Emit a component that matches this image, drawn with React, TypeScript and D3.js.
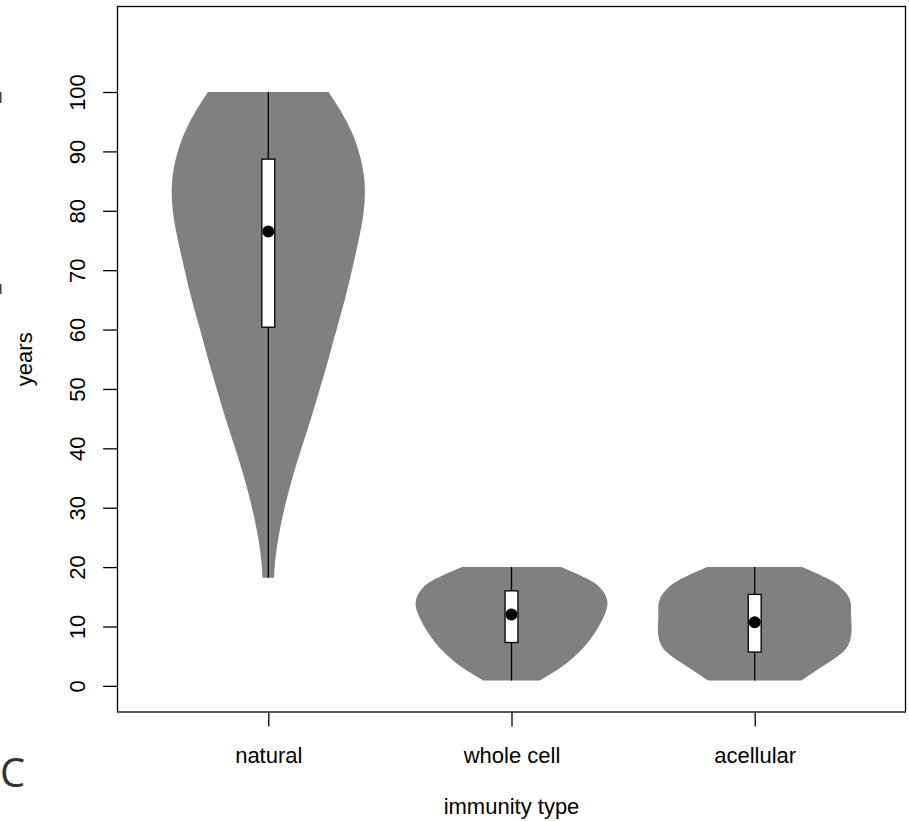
import React, { useEffect, useRef } from 'react'
import * as d3 from 'd3'

/* Categories */
const groups = ['natural', 'whole cell', 'acellular']

/* Violin outlines: years and relative density (1 = widest point) */
const naturalYears = [18.2, 20, 25, 30, 35, 40, 45, 50, 55, 60, 65, 70, 75, 80, 85, 90, 95, 100]
const naturalDensity = [0.06, 0.062, 0.1, 0.165, 0.245, 0.34, 0.44, 0.53, 0.62, 0.7, 0.79, 0.86, 0.93, 0.99, 1.0, 0.94, 0.82, 0.62]

const wholeCellYears = [0.9, 3.2, 5.5, 7.7, 10, 12.3, 14.2, 16.2, 17.8, 20]
const wholeCellDensity = [0.29, 0.53, 0.69, 0.81, 0.9, 0.97, 1.0, 0.94, 0.83, 0.51]

const acellularYears = [0.9, 2.6, 4.3, 6, 7.7, 10, 12, 14.2, 16.2, 17.8, 20]
const acellularDensity = [0.48, 0.63, 0.8, 0.94, 0.99, 1.0, 0.985, 1.0, 0.92, 0.8, 0.49]

/* Box plot stats */
const minimums = [18.2, 0.9, 0.9]
const lowerQuartiles = [60.4, 7.3, 5.7]
const medians = [76.5, 12.0, 10.7]
const upperQuartiles = [88.7, 16.0, 15.4]
const maximums = [100, 20, 20]

/* Tick labels */
const yTicks = [0, 10, 20, 30, 40, 50, 60, 70, 80, 90, 100]

const violins = [
    { years: naturalYears, density: naturalDensity },
    { years: wholeCellYears, density: wholeCellDensity },
    { years: acellularYears, density: acellularDensity },
]

const FONT = '"Liberation Sans", Arial, Helvetica, sans-serif'

export default function App() {
    const ref = useRef<SVGSVGElement>(null)

    useEffect(() => {
        const width = 909
        const height = 821
        const left = 117.5, right = 905.5, top = 6.5, bottom = 712

        const svg = d3.select(ref.current)
        svg.selectAll('*').remove()
        svg.attr('width', width).attr('height', height)

        /* Scales */
        const x = d3.scaleLinear().domain([0.38, 3.62]).range([left, right])
        const y = d3.scaleLinear().domain([-4.4, 114.4]).range([bottom, top])
        const wScale = d3.scaleLinear().domain([0, 1]).range([0, 0.4])
        const boxHalf = 0.0265

        /* Violins */
        violins.forEach((v, i) => {
            const c = i + 1
            const pts = v.years.map((yr, j) => ({ yr, d: v.density[j] }))
            const area = d3.area<{ yr: number, d: number }>()
                .y((p) => y(p.yr))
                .x0((p) => x(c - wScale(p.d)))
                .x1((p) => x(c + wScale(p.d)))
                .curve(d3.curveBasis)
            svg.append('path')
                .attr('d', area(pts))
                .attr('fill', '#808080')
        })

        /* Whiskers, boxes, medians */
        groups.forEach((g, i) => {
            const c = i + 1
            svg.append('line')
                .attr('x1', x(c)).attr('x2', x(c))
                .attr('y1', y(minimums[i])).attr('y2', y(maximums[i]))
                .attr('stroke', '#000').attr('stroke-width', 1.3)
            svg.append('rect')
                .attr('x', x(c - boxHalf))
                .attr('width', x(c + boxHalf) - x(c - boxHalf))
                .attr('y', y(upperQuartiles[i]))
                .attr('height', y(lowerQuartiles[i]) - y(upperQuartiles[i]))
                .attr('fill', '#fff').attr('stroke', '#000').attr('stroke-width', 1.3)
            svg.append('circle')
                .attr('cx', x(c)).attr('cy', y(medians[i]))
                .attr('r', 6).attr('fill', '#000')
        })

        /* Y axis */
        const yAxis = svg.append('g')
            .attr('transform', 'translate(' + left + ',0)')
            .call(d3.axisLeft(y).tickValues(yTicks).tickSize(14.4))
        yAxis.select('.domain').remove()
        yAxis.selectAll('line').attr('stroke', '#000').attr('stroke-width', 1.3)
        yAxis.selectAll('text')
            .attr('x', null).attr('y', null).attr('dy', null)
            .attr('transform', 'translate(-33,0) rotate(-90)')
            .attr('text-anchor', 'middle')
            .attr('font-family', FONT).attr('font-size', 22).attr('fill', '#000')

        /* X axis */
        const xAxis = svg.append('g')
            .attr('transform', 'translate(0,' + bottom + ')')
            .call(d3.axisBottom(x).tickValues([1, 2, 3]).tickFormat((d) => groups[+d - 1]).tickSize(14.4))
        xAxis.select('.domain').remove()
        xAxis.selectAll('line').attr('stroke', '#000').attr('stroke-width', 1.3)
        xAxis.selectAll('text')
            .attr('y', 51).attr('dy', null)
            .attr('font-family', FONT).attr('font-size', 22).attr('fill', '#000')

        /* Box */
        svg.append('rect')
            .attr('x', left).attr('y', top)
            .attr('width', right - left).attr('height', bottom - top)
            .attr('fill', 'none').attr('stroke', '#000').attr('stroke-width', 1.3)

        /* Axis titles */
        svg.append('text')
            .attr('x', (left + right) / 2).attr('y', 814)
            .attr('text-anchor', 'middle')
            .attr('font-family', FONT).attr('font-size', 22)
            .text('immunity type')
        svg.append('text')
            .attr('transform', 'translate(32,' + (top + bottom) / 2 + ') rotate(-90)')
            .attr('text-anchor', 'middle')
            .attr('font-family', FONT).attr('font-size', 22)
            .text('years')

        /* Panel letter and clipped marks from the neighbouring panel */
        svg.append('text')
            .attr('x', 0).attr('y', 787)
            .attr('font-family', '"Open Sans", "DejaVu Sans", sans-serif')
            .attr('font-size', 40).attr('fill', '#333')
            .text('C')
        svg.append('rect').attr('x', 0).attr('y', 92).attr('width', 1.5).attr('height', 11).attr('fill', '#444')
        svg.append('rect').attr('x', 0).attr('y', 284).attr('width', 1.5).attr('height', 10).attr('fill', '#444')
    }, [])

    return (
        <svg ref={ref} style={{ position: 'absolute', left: 0, top: 0, display: 'block' }} />
    )
}
